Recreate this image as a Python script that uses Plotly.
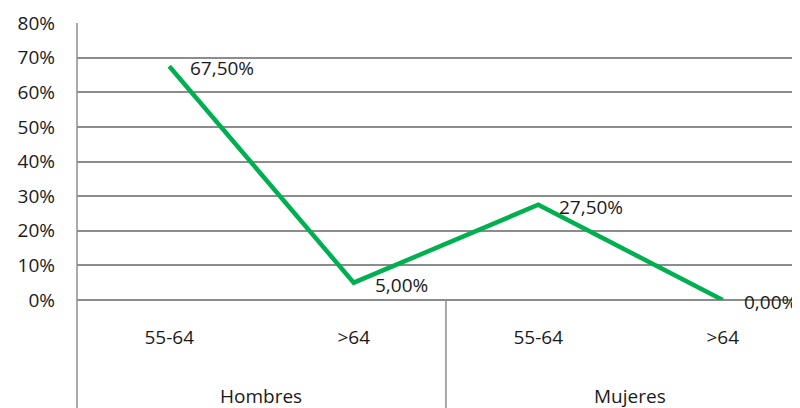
import plotly.graph_objects as go

# data
groups = ["Hombres", "Mujeres"]
ages = ["55-64", ">64", "55-64", ">64"]
values = [67.5, 5.0, 27.5, 0.0]
y_ticks = [0, 10, 20, 30, 40, 50, 60, 70, 80]

GREEN = "#00B050"
GRID = "#8c8c8c"
TEXT = "#1a1a1a"
FONT = "'Open Sans', 'Noto Sans', sans-serif"

x = list(range(len(ages)))

fig = go.Figure()
fig.add_trace(
    go.Scatter(
        x=x,
        y=values,
        mode="lines",
        line={"color": GREEN, "width": 4.5},
        hoverinfo="skip",
        showlegend=False,
    )
)

# data labels, Excel style "67,50%"
annotations = []
for xi, v in zip(x, values):
    annotations.append({
        "x": xi, "y": v, "xref": "x", "yref": "y",
        "text": f"{v:.2f}%".replace(".", ","),
        "showarrow": False, "xanchor": "left", "yanchor": "middle",
        "xshift": 19, "yshift": -2,
        "font": {"size": 19, "color": TEXT, "family": FONT},
    })

# second-level category labels
per_group = len(ages) // len(groups)
for gi, g in enumerate(groups):
    center = gi * per_group + (per_group - 1) / 2
    annotations.append({
        "x": center, "y": -0.347, "xref": "x", "yref": "paper",
        "text": g, "showarrow": False, "yanchor": "middle",
        "font": {"size": 19, "color": TEXT, "family": FONT},
    })

shapes = [
    # left border running down through the category area
    {"type": "line", "xref": "paper", "yref": "paper", "x0": 0, "x1": 0,
     "y0": -0.45, "y1": 1, "line": {"color": GRID, "width": 1.5}},
]
for gi in range(1, len(groups)):
    sep = gi * per_group - 0.5
    shapes.append({"type": "line", "xref": "x", "yref": "paper", "x0": sep, "x1": sep,
                   "y0": -0.45, "y1": 0, "line": {"color": GRID, "width": 1.5}})

# the page body adds an 8px offset, margins compensate for it
fig.update_layout(
    width=800,
    height=408,
    paper_bgcolor="white",
    plot_bgcolor="white",
    margin={"l": 69, "r": 8, "t": 15, "b": 116, "autoexpand": False},
    font={"family": FONT, "size": 19, "color": TEXT},
    annotations=annotations,
    shapes=shapes,
    xaxis={
        "range": [-0.5, 3.419],
        "tickvals": x,
        "ticktext": ages,
        "showgrid": False,
        "zeroline": False,
        "ticks": "",
        "ticklabelstandoff": 24,
        "automargin": False,
        "fixedrange": True,
    },
    yaxis={
        "range": [0, 80],
        "tickvals": y_ticks,
        "ticktext": [f"{t}%" for t in y_ticks],
        "showgrid": True,
        "gridcolor": GRID,
        "gridwidth": 1.5,
        "zeroline": True,
        "zerolinecolor": GRID,
        "zerolinewidth": 1.5,
        "ticks": "",
        "ticklabelstandoff": 21,
        "automargin": False,
        "fixedrange": True,
    },
)

fig.write_html("out.html")
